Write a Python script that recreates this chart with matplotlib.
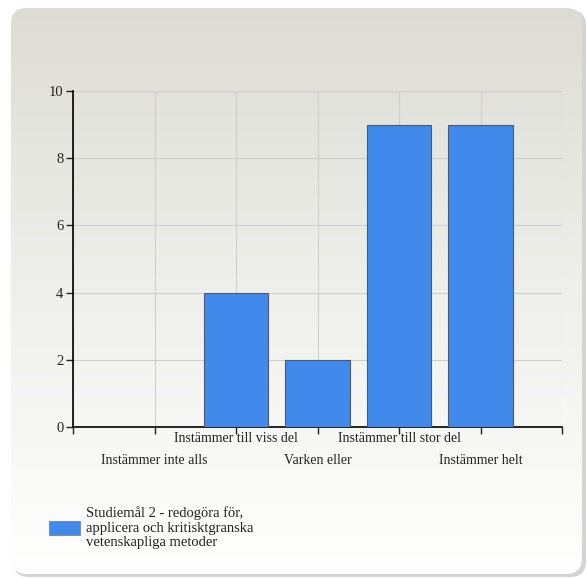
import numpy as np
import matplotlib
matplotlib.use("Agg")
import matplotlib.pyplot as plt
from matplotlib.patches import FancyBboxPatch, Rectangle
from matplotlib.transforms import blended_transform_factory

# data
categories = ["Instämmer inte alls", "Instämmer till viss del", "Varken eller",
              "Instämmer till stor del", "Instämmer helt"]
counts = [0, 4, 2, 9, 9]
series_name = "Studiemål 2 - redogöra för,\napplicera och kritisktgranska\nvetenskapliga metoder"
yticks = [0, 2, 4, 6, 8, 10]

plt.rcParams['font.family'] = ['Liberation Serif', 'DejaVu Serif']
W, H = 587, 579
fig = plt.figure(figsize=(W / 100, H / 100), dpi=100)
fig.patch.set_facecolor("white")

# rounded gradient panel behind everything
bg = fig.add_axes([0, 0, 1, 1], zorder=-10)
bg.set_xlim(0, W)
bg.set_ylim(H, 0)
bg.axis("off")
shadow = FancyBboxPatch((13, 10), 573, 567, boxstyle="round,pad=0,rounding_size=16",
                        fc="#d4d4d4", ec="none", zorder=0)
bg.add_patch(shadow)
panel = FancyBboxPatch((11, 8), 571, 566, boxstyle="round,pad=0,rounding_size=16",
                       fc="none", ec="none")
bg.add_patch(panel)
grad = np.linspace(0, 1, 256).reshape(-1, 1)
top = np.array([0xdc, 0xdc, 0xd4]) / 255
bot = np.array([0xff, 0xff, 0xff]) / 255
img = top + (bot - top) * grad[..., None] ** 0.9
img = np.repeat(img, 2, axis=1)
im = bg.imshow(img, extent=[11, 582, 574, 8], aspect="auto",
               interpolation="bilinear", zorder=1)
im.set_clip_path(panel)

ax = fig.add_axes([73 / W, 1 - 427 / H, (562 - 73) / W, (427 - 91) / H])
ax.patch.set_alpha(0)
x = np.arange(1, len(categories) + 1)
ax.bar(x, counts, width=0.79, color="#4189ea", edgecolor="#4a5a70", linewidth=0.8, zorder=3)

ax.set_xlim(0, 6)
ax.set_ylim(0, 10)
ax.set_yticks(yticks)
ax.set_xticks(range(0, 7))
ax.set_xticklabels([])
ax.grid(True, color="#cfcfcb", linewidth=0.8, zorder=0)
for s in ["top", "right"]:
    ax.spines[s].set_visible(False)
ax.spines["left"].set_linewidth(1.2)
ax.spines["bottom"].set_linewidth(1.2)
ax.tick_params(axis="both", labelsize=10.5, length=5, width=1, colors="#222222")
ax.tick_params(axis="y", pad=2)

# staggered category labels (pixel offsets below the axis)
tr = blended_transform_factory(ax.transData, bg.transData)
for i, (xi, lab) in enumerate(zip(x, categories)):
    ypix = 461 if i % 2 == 0 else 439
    ax.text(xi, ypix, lab, ha="center", va="center", fontsize=10, color="#222222",
            transform=tr)

# legend
bg.add_patch(Rectangle((49, 521), 31, 14, fc="#4189ea", ec="#8090a0", lw=0.8, zorder=2))
bg.text(86, 528, series_name, ha="left", va="center", fontsize=10.5, color="#222222",
        linespacing=1.15, zorder=2)

fig.savefig("out.png", dpi=100)
